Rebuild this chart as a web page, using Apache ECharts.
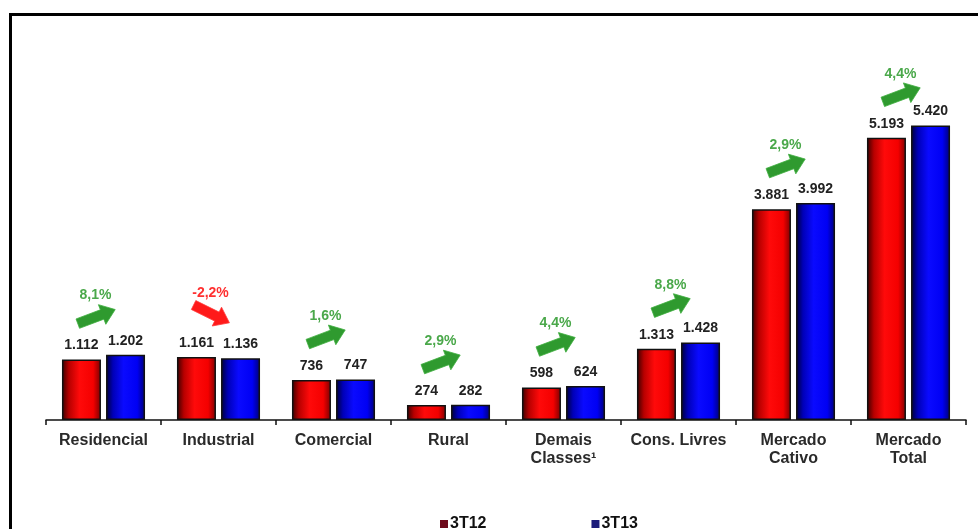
<!DOCTYPE html>
<html>
<head>
<meta charset="utf-8">
<script src="https://cdn.jsdelivr.net/npm/echarts@6/dist/echarts.min.js"></script>
<style>
html,body{margin:0;padding:0;background:#fff;}
#chart{width:978px;height:529px;}
</style>
</head>
<body>
<div id="chart"></div>
<script>
var categories = ['Residencial', 'Industrial', 'Comercial', 'Rural', 'Demais\nClasses\u00B9', 'Cons. Livres', 'Mercado\nCativo', 'Mercado\nTotal'];
var series3T12 = [1112, 1161, 736, 274, 598, 1313, 3881, 5193];
var series3T13 = [1202, 1136, 747, 282, 624, 1428, 3992, 5420];
var growthPct = [8.1, -2.2, 1.6, 2.9, 4.4, 8.8, 2.9, 4.4];
var seriesNames = ['3T12', '3T13'];

function fmtNum(n) {
  return String(n).replace(/\B(?=(\d{3})+(?!\d))/g, '.');
}
function fmtPct(p) {
  return p.toFixed(1).replace('.', ',') + '%';
}

var FONT = '"Liberation Sans", Arial, sans-serif';

var redGrad = {
  type: 'linear', x: 0, y: 0, x2: 1, y2: 0,
  colorStops: [
    {offset: 0, color: '#3a0000'},
    {offset: 0.18, color: '#b80000'},
    {offset: 0.45, color: '#ff0a0a'},
    {offset: 0.8, color: '#f40000'},
    {offset: 1, color: '#7a0000'}
  ]
};
var blueGrad = {
  type: 'linear', x: 0, y: 0, x2: 1, y2: 0,
  colorStops: [
    {offset: 0, color: '#000035'},
    {offset: 0.18, color: '#0000b8'},
    {offset: 0.45, color: '#0a0aff'},
    {offset: 0.8, color: '#0000f4'},
    {offset: 1, color: '#000075'}
  ]
};

var arrowData = categories.map(function (c, i) {
  return [i, series3T12[i], growthPct[i]];
});

function renderArrow(params, api) {
  var i = api.value(0);
  var v = api.value(1);
  var p = api.value(2);
  var pt = api.coord([i, v]);
  var cx = pt[0] - 7;
  var cy = pt[1] - 43;
  var up = p >= 0;
  var theta = up ? -0.36 : 0.46;
  var local = [[-20, -5], [6, -5], [6, -10.5], [20, 0], [6, 10.5], [6, 5], [-20, 5]];
  var cs = Math.cos(theta), sn = Math.sin(theta);
  var pts = local.map(function (q) {
    return [cx + q[0] * cs - q[1] * sn, cy + q[0] * sn + q[1] * cs];
  });
  var fillC = up ? '#2f9a2f' : '#ff1a1a';
  var textC = up ? '#4aa84a' : '#ff3030';
  return {
    type: 'group',
    children: [
      {
        type: 'polygon',
        shape: {points: pts},
        style: {fill: fillC, stroke: up ? '#3fae3f' : '#ff3a3a', lineWidth: 0.8}
      },
      {
        type: 'text',
        x: cx - 1,
        y: cy - 21,
        style: {
          text: fmtPct(p),
          fill: textC,
          fontSize: 14,
          fontWeight: 'bold',
          fontFamily: FONT,
          align: 'center',
          verticalAlign: 'middle'
        }
      }
    ]
  };
}

var chart = echarts.init(document.getElementById('chart'), null, {renderer: 'canvas'});
chart.setOption({
  animation: false,
  backgroundColor: '#ffffff',
  graphic: [{
    type: 'rect',
    shape: {x: 10.5, y: 14.5, width: 1100, height: 700},
    style: {fill: 'none', stroke: '#000', lineWidth: 3},
    silent: true,
    z: 100
  }],
  grid: {left: 46, right: 12, top: 94, bottom: 109, containLabel: false, outerBoundsMode: 'none'},
  legend: {
    left: 435,
    top: 511,
    itemWidth: 8,
    itemHeight: 8,
    itemGap: 105,
    icon: 'rect',
    textStyle: {fontSize: 16, fontWeight: 'bold', color: '#111', fontFamily: FONT, padding: [0, 0, 0, -3]},
    data: [
      {name: seriesNames[0], itemStyle: {color: '#6e0a1c', borderWidth: 0}},
      {name: seriesNames[1], itemStyle: {color: '#1c1c7a', borderWidth: 0}}
    ]
  },
  xAxis: {
    type: 'category',
    data: categories,
    axisLine: {lineStyle: {color: '#111', width: 1.5}},
    axisTick: {show: true, length: 5, lineStyle: {color: '#111', width: 1.5}},
    axisLabel: {
      margin: 12,
      fontSize: 16,
      fontWeight: 'bold',
      color: '#2a2a2a',
      fontFamily: FONT,
      lineHeight: 18,
      interval: 0
    }
  },
  yAxis: {
    type: 'value',
    min: 0,
    max: 6000,
    show: false,
    splitLine: {show: false}
  },
  series: [
    {
      name: seriesNames[0],
      type: 'bar',
      data: series3T12,
      barWidth: 39,
      barGap: '13%',
      itemStyle: {color: redGrad, borderColor: '#111', borderWidth: 1.5},
      label: {
        show: true, position: 'top', distance: 7,
        formatter: function (p) { return fmtNum(p.value); },
        fontSize: 14, fontWeight: 'bold', color: '#222', fontFamily: FONT
      }
    },
    {
      name: seriesNames[1],
      type: 'bar',
      data: series3T13,
      barWidth: 39,
      itemStyle: {color: blueGrad, borderColor: '#111', borderWidth: 1.5},
      label: {
        show: true, position: 'top', distance: 7,
        formatter: function (p) { return fmtNum(p.value); },
        fontSize: 14, fontWeight: 'bold', color: '#222', fontFamily: FONT
      }
    },
    {
      name: 'growth',
      type: 'custom',
      renderItem: renderArrow,
      data: arrowData,
      silent: true,
      z: 10,
      encode: {x: 0, y: 1}
    }
  ]
});
</script>
</body>
</html>
